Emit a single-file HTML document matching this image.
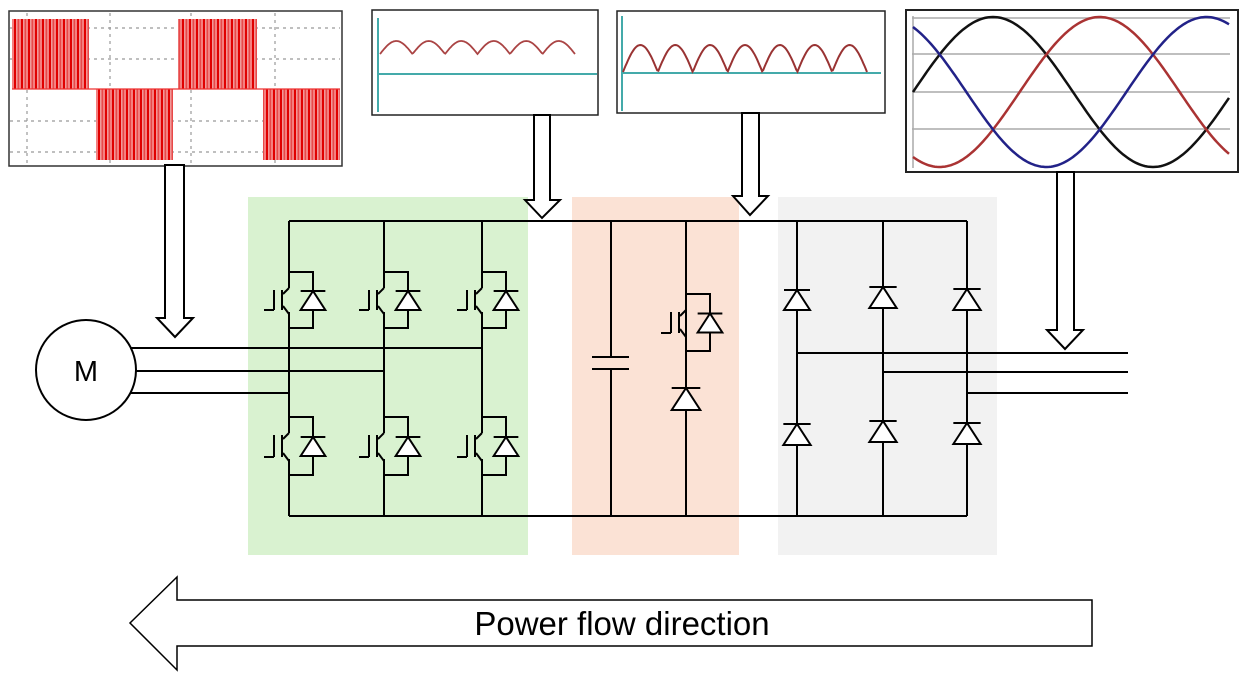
<!DOCTYPE html>
<html><head><meta charset="utf-8"><style>
html,body{margin:0;padding:0;background:#fff;width:1245px;height:688px;overflow:hidden}
svg{display:block}
</style></head><body>
<svg id="s" width="1245" height="688" viewBox="0 0 1245 688" xmlns="http://www.w3.org/2000/svg">
<defs>
<pattern id="pwm" width="7" height="10" patternUnits="userSpaceOnUse">
<rect width="7" height="10" fill="#fff"/>
<rect x="0" width="2.4" height="10" fill="#e00000"/><rect x="3.3" width="1.6" height="10" fill="#e53535"/><rect x="5.5" width="1" height="10" fill="#e80000"/>
</pattern>
</defs>
<rect x="248" y="197" width="280" height="358" fill="#d9f2d0"/>
<rect x="572" y="197" width="167" height="358" fill="#fbe2d5"/>
<rect x="778" y="197" width="219" height="358" fill="#f2f2f2"/>

<rect x="9" y="11" width="333" height="155" fill="#fff" stroke="#333" stroke-width="1.5"/>
<g stroke="#999" stroke-dasharray="3,4" stroke-width="1.2">
<line x1="10" y1="28" x2="340" y2="28"/><line x1="10" y1="59" x2="340" y2="59"/>
<line x1="10" y1="121" x2="340" y2="121"/><line x1="10" y1="152" x2="340" y2="152"/>
<line x1="27" y1="13" x2="27" y2="164"/><line x1="110" y1="13" x2="110" y2="164"/>
<line x1="191" y1="13" x2="191" y2="164"/><line x1="275" y1="13" x2="275" y2="164"/>
</g>
<rect x="12" y="19" width="77" height="70" fill="url(#pwm)"/>
<rect x="96" y="89" width="77" height="71" fill="url(#pwm)"/>
<rect x="178" y="19" width="79" height="70" fill="url(#pwm)"/>
<rect x="263" y="89" width="77" height="71" fill="url(#pwm)"/>
<line x1="12" y1="89" x2="340" y2="89" stroke="#e33" stroke-width="1.2"/>

<rect x="372" y="10" width="226" height="105" fill="#fff" stroke="#222" stroke-width="1.5"/>
<line x1="378" y1="18" x2="378" y2="112" stroke="#4aa" stroke-width="2"/>
<line x1="378" y1="74" x2="597" y2="74" stroke="#4aa" stroke-width="2"/>
<path id="rip" fill="none" stroke="#a44" stroke-width="1.8"/>

<rect x="617" y="11" width="268" height="102" fill="#fff" stroke="#222" stroke-width="1.5"/>
<line x1="622" y1="16" x2="622" y2="111" stroke="#4aa" stroke-width="2"/>
<line x1="622" y1="73" x2="881" y2="73" stroke="#4aa" stroke-width="2"/>
<path id="hum" fill="none" stroke="#933" stroke-width="2"/>

<rect x="906" y="10" width="332" height="162" fill="#fff" stroke="#222" stroke-width="2"/>
<g stroke="#aaa" stroke-width="1.5">
<line x1="912" y1="18" x2="1230" y2="18"/><line x1="912" y1="54" x2="1230" y2="54"/>
<line x1="912" y1="92" x2="1230" y2="92"/><line x1="912" y1="129" x2="1230" y2="129"/>
<line x1="913" y1="16" x2="913" y2="168"/>
</g>
<path id="sb" fill="none" stroke="#111" stroke-width="2.5"/>
<path id="sr" fill="none" stroke="#a33" stroke-width="2.5"/>
<path id="su" fill="none" stroke="#228" stroke-width="2.5"/>

<g fill="#fff" stroke="#000" stroke-width="2">
<path d="M165,165 V318 H157 L175,337 L193,318 H184 V165 Z"/>
<path d="M534,115 V200 H525 L542,218 L560,200 H550 V115 Z"/>
<path d="M742,113 V196 H733 L750,215 L768,196 H759 V113 Z"/>
<path d="M1057,172 V330 H1047 L1065,349 L1083,330 H1074 V172 Z"/>
</g>

<circle cx="86" cy="370" r="50" fill="#fff" stroke="#000" stroke-width="2"/>
<text x="86" y="381" font-family="Liberation Sans, sans-serif" font-size="29" text-anchor="middle">M</text>

<g id="circ" stroke="#000" stroke-width="2" fill="none">
<line x1="289" y1="221" x2="967" y2="221"/>
<line x1="289" y1="516" x2="967" y2="516"/>
<line x1="130" y1="348" x2="482" y2="348"/>
<line x1="135" y1="371" x2="384" y2="371"/>
<line x1="130" y1="393" x2="289" y2="393"/>
<line x1="611" y1="221" x2="611" y2="357"/><line x1="611" y1="369" x2="611" y2="516"/>
<line x1="592" y1="357" x2="629" y2="357"/><line x1="592" y1="369" x2="629" y2="369"/>
<line x1="686" y1="221" x2="686" y2="388"/><line x1="686" y1="410" x2="686" y2="516"/>
<line x1="797" y1="221" x2="797" y2="516"/><line x1="883" y1="221" x2="883" y2="516"/>
<line x1="967" y1="221" x2="967" y2="516"/>
<line x1="797" y1="353" x2="1128" y2="353"/>
<line x1="883" y1="372" x2="1128" y2="372"/>
<line x1="967" y1="393" x2="1128" y2="393"/>
</g>

<path d="M1092,600 V646 H177 V670 L130,623 L177,577 V600 Z" fill="#fff" stroke="#000" stroke-width="1.5"/>
<text x="622" y="635" font-family="Liberation Sans, sans-serif" font-size="33" text-anchor="middle">Power flow direction</text>
</svg>
<script>
var NS="http://www.w3.org/2000/svg",g=document.getElementById('circ');
function el(t,a){var e=document.createElementNS(NS,t);for(var k in a)e.setAttribute(k,a[k]);g.appendChild(e);return e;}
function diode(x,bar,base){var h=(base-bar),w=h*0.65;
 el('line',{x1:x-w,y1:bar,x2:x+w,y2:bar});
 el('path',{d:'M'+x+','+bar+' L'+(x-w)+','+base+' L'+(x+w)+','+base+' Z',fill:'#fff'});}
function igbt(x,top,bot,dx){
 el('line',{x1:x,y1:top-14,x2:x,y2:top+16});
 el('line',{x1:x,y1:bot-16,x2:x,y2:bot+14});
 el('line',{x1:x,y1:top+16,x2:x-6,y2:top+22});
 el('line',{x1:x-6,y1:bot-22,x2:x,y2:bot-14});
 el('line',{x1:x-7,y1:top+18,x2:x-7,y2:bot-18});
 el('line',{x1:x-15,y1:top+18,x2:x-15,y2:bot-18});
 el('line',{x1:x-25,y1:bot-18,x2:x-15,y2:bot-18});
 el('polyline',{points:x+','+top+' '+(x+dx)+','+top+' '+(x+dx)+','+bot+' '+x+','+bot});
 var m=(top+bot)/2;diode(x+dx,m-9,m+10);}
[289,384,482].forEach(function(x){igbt(x,272,328,24);igbt(x,417,475,24);
 el('line',{x1:x,y1:221,x2:x,y2:258});el('line',{x1:x,y1:342,x2:x,y2:403});el('line',{x1:x,y1:489,x2:x,y2:516});});
igbt(686,294,351,24);
diode(686,388,410);
diode(797,290,310);diode(883,287,308);diode(967,289,310);
diode(797,424,445);diode(883,421,442);diode(967,423,444);
function hump(id,x0,x1,n,base,amp){var d='',w=(x1-x0)/n;for(var i=0;i<=200;i++){var x=x0+(x1-x0)*i/200;var p=((x-x0)%w)/w;var y=base-amp*Math.sin(Math.PI*p);d+=(i?'L':'M')+x.toFixed(1)+','+y.toFixed(1);}document.getElementById(id).setAttribute('d',d);}
hump('rip',380,575,6,54,13);
hump('hum',623,867,7,72,27);
function sine(id,ph){var d='';for(var x=913;x<=1230;x+=2){var y=92-75*Math.sin(2*Math.PI*(x-913)/320+ph);d+=(x==913?'M':'L')+x+','+y.toFixed(1);}document.getElementById(id).setAttribute('d',d);}
sine('sb',0);sine('sr',-2*Math.PI/3);sine('su',2*Math.PI/3);
</script>
</body></html>
